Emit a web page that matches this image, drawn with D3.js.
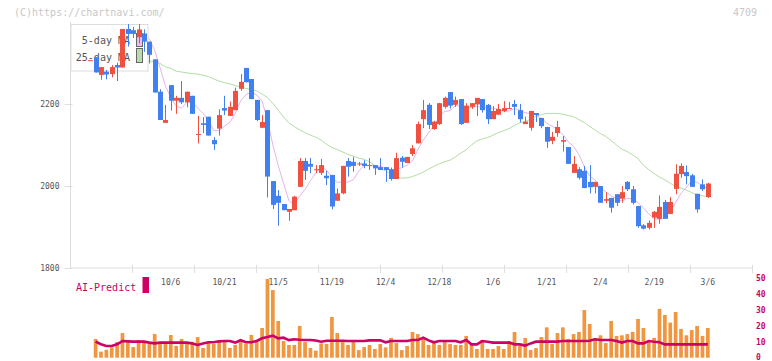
<!DOCTYPE html>
<html><head><meta charset="utf-8">
<script src="https://cdn.jsdelivr.net/npm/d3@7"></script>
<style>
body{margin:0;background:#fff}
svg{display:block}
text{font-family:"DejaVu Sans Mono",monospace}
</style>
</head><body>
<svg id="chart" width="772" height="361"></svg>
<script>
// ---- data ----
const opens  = [2307,2314,2271,2279,2273,2295,2289,2383,2380,2363,2372,2352,2309,2230,2154,2246,2208,2215,2204,2220,
                2127,2153,2169,2112,2140,2190,2171,2185,2237,2288,2261,2210,2142,2185,2012,1976,1956,1937,1941,1998,
                2061,2054,2041,2032,2025,2027,1964,1982,2061,2059,2055,2055,2051,2051,2046,2046,2041,2017,2069,2056,
                2078,2104,2163,2198,2139,2151,2193,2229,2198,2212,2154,2193,2199,2212,2198,2163,2174,2183,2188,2200,
                2185,2151,2142,2178,2166,2144,2110,2129,2108,2095,2032,2041,2037,2010,1998,2000,1964,1971,1980,1969,
                2010,1992,1951,1904,1898,1923,1920,1961,1932,1993,2029,2034,2026,1981,2004,1973];
const highs  = [2307,2314,2290,2283,2295,2301,2383,2395,2388,2395,2382,2352,2309,2236,2198,2246,2220,2256,2230,2220,
                2171,2168,2169,2119,2187,2220,2206,2240,2273,2288,2261,2210,2173,2185,2012,1990,1956,1944,1976,2068,
                2068,2068,2051,2066,2037,2027,1994,2049,2068,2071,2059,2063,2068,2051,2068,2046,2045,2081,2073,2071,
                2100,2157,2210,2202,2159,2203,2218,2229,2218,2212,2202,2202,2215,2212,2200,2195,2200,2207,2205,2210,
                2200,2169,2183,2178,2166,2144,2132,2159,2122,2095,2073,2046,2049,2051,2010,2000,1985,1971,1980,2000,
                2012,2000,1951,1907,1916,1939,1977,1966,1973,2053,2055,2050,2029,1981,2016,2008];
const lows   = [2307,2277,2259,2260,2265,2256,2289,2340,2361,2348,2327,2299,2228,2161,2154,2184,2176,2200,2192,2176,
                2104,2129,2123,2088,2123,2173,2171,2185,2232,2253,2212,2158,2142,1972,1944,1903,1941,1915,1941,1998,
                2015,2031,2031,2027,2002,1943,1964,1980,2023,2035,2049,2043,2039,2027,2039,2010,2013,2017,2045,2056,
                2073,2104,2141,2139,2137,2149,2189,2189,2193,2149,2154,2188,2171,2179,2151,2163,2173,2180,2188,2173,
                2155,2151,2135,2156,2141,2093,2102,2120,2084,2054,2032,2016,1995,1982,1982,1959,1958,1935,1951,1959,
                1988,1955,1898,1894,1894,1898,1908,1920,1932,1980,2020,2004,1998,1935,1988,1971];
const closes = [2307,2277,2290,2272,2290,2289,2383,2371,2371,2382,2352,2320,2228,2161,2161,2208,2215,2204,2230,2176,
                2127,2149,2123,2102,2173,2184,2193,2232,2254,2253,2212,2161,2156,2023,1954,1959,1941,1944,1974,2061,
                2037,2047,2041,2051,2019,1950,1982,2049,2047,2049,2055,2049,2051,2043,2039,2039,2017,2068,2059,2071,
                2092,2151,2185,2149,2157,2202,2215,2196,2210,2151,2196,2202,2215,2185,2163,2183,2188,2190,2190,2193,
                2163,2157,2183,2173,2146,2108,2120,2144,2112,2054,2054,2020,1995,1997,2010,1959,1968,1947,1959,1985,
                1992,1959,1902,1896,1910,1937,1949,1920,1961,2030,2049,2024,1998,1943,1992,2006];
const ma25   = [null,null,null,null,null,null,null,null,null,null,null,2305,2303,2299,2291,2287,2280,2278,2276,2274,
                2273,2270,2267,2261,2256,2252,2249,2245,2241,2238,2235,2232,2224,2216,2202,2185,2168,2154,2145,2137,
                2130,2124,2119,2112,2102,2094,2089,2083,2077,2073,2068,2065,2059,2050,2043,2037,2029,2023,2019,2020,
                2023,2028,2034,2041,2048,2054,2059,2063,2071,2080,2088,2100,2110,2115,2118,2124,2130,2135,2140,2148,
                2154,2157,2163,2170,2174,2177,2177,2177,2175,2172,2169,2162,2155,2145,2137,2128,2121,2111,2100,2090,
                2084,2076,2067,2051,2040,2030,2022,2015,2007,1999,1995,1990,1984,1979,1976,1974];
const volumes = [0,11.8,3.8,5.0,6.5,9.9,15.5,11.1,6.7,11.1,10.5,8.6,14.9,9.9,9.9,14.3,7.4,11.8,9.9,10.1,
                13.0,6.1,9.9,8.6,10.9,9.9,6.1,8.0,10.7,8.8,14.3,10.5,18.7,49.6,42.6,23.1,10.5,8.0,8.0,20.0,
                9.9,6.1,4.4,9.0,8.6,25.6,15.5,10.9,8.0,10.5,4.8,6.7,8.0,5.5,8.6,6.5,12.4,9.2,4.8,7.4,
                16.2,14.9,11.8,8.0,10.5,8.0,9.9,8.6,8.0,8.0,13.7,9.2,5.5,11.1,5.5,5.5,7.4,5.5,10.5,16.2,
                7.4,12.4,4.8,6.1,13.0,19.1,8.6,15.5,19.1,11.8,14.9,16.2,30.0,21.2,12.4,14.1,9.2,23.1,13.7,14.1,
                14.9,16.2,24.4,18.7,9.9,12.4,30.7,26.9,22.1,28.8,18.1,14.1,17.4,20.0,13.7,18.7];
const aiPredict = [null,10.1,8.5,7.4,7.4,8.4,10.5,10.3,10.1,10.1,10.1,9.5,9.0,9.5,9.5,9.5,9.5,9.5,9.5,9.0,
                8.0,9.0,9.7,9.7,10.3,10.5,10.5,9.5,11.0,9.7,9.7,10.5,12.2,13.0,13.9,12.2,12.6,11.1,11.6,11.3,
                11.1,11.1,10.8,10.1,10.7,10.7,10.7,10.7,10.5,10.5,10.5,10.5,10.9,10.9,10.9,9.7,10.5,10.5,10.5,10.5,
                11.1,11.1,12.6,10.9,9.7,10.5,10.5,10.5,10.5,9.7,11.1,8.4,8.4,10.5,10.0,9.5,9.5,9.5,9.5,8.4,
                8.4,7.6,9.0,10.1,10.1,10.1,10.1,10.1,10.5,10.5,10.5,10.5,10.5,10.7,11.6,11.1,11.1,11.1,10.5,9.5,
                10.5,10.5,9.0,9.0,10.5,10.0,9.7,8.4,8.4,8.4,8.4,8.4,8.4,8.4,8.4,8.4];
const dateLabels   = ["10/6","10/21","11/5","11/19","12/4","12/18","1/6","1/21","2/4","2/19","3/6"];
const dateLabelIdx = [15,25,35,45,55,65,75,85,95,105,115];
const gridTickIdx  = [7.84,19.39,30.93,42.48,54.02,65.57,77.11,88.66,100.2,111.75,123.3];
const priceTicks   = [1800,2000,2200];
const volumeTicks  = [0,10,20,30,40,50];

// ---- layout / scales ----
const N = closes.length;
const svg = d3.select("#chart");
const x  = d3.scaleLinear().domain([0, N - 1]).range([90.2, 707.8]);
const y  = d3.scaleLinear().domain([1800, 2200]).range([268, 104]);
const yv = d3.scaleLinear().domain([0, 50]).range([357.7, 278.3]);
const plotLeft = 70.5, plotRight = 752.5, plotTop = 22;

const RED = "#ef5040", BLUE = "#4080ef", ORANGE = "#f0963f", CRIMSON = "#cc0066";
const AXIS = "#dddddd", LABEL = "#555555";

// header texts
svg.append("text").attr("x", 14).attr("y", 15.5).attr("font-size", 10)
   .attr("fill", "#c8c8c8").text("(C)https://chartnavi.com/");
svg.append("text").attr("x", 757).attr("y", 16).attr("font-size", 10)
   .attr("text-anchor", "end").attr("fill", "#c8c8c8").text("4709");

// y axis (price)
const yAxis = d3.axisLeft(y).tickValues(priceTicks).tickSize(6).tickPadding(5).tickFormat(d3.format("d"));
const gy = svg.append("g").attr("transform", `translate(${plotLeft},0)`).call(yAxis);
gy.select(".domain").remove();
gy.selectAll(".tick line").attr("stroke", AXIS).attr("x1", 2).attr("x2", -6);
gy.selectAll(".tick text").attr("fill", LABEL).attr("font-size", 8)
  .attr("font-family", '"DejaVu Sans Mono",monospace').attr("dy", "0.34em");
svg.append("line").attr("x1", plotLeft).attr("x2", plotLeft).attr("y1", plotTop).attr("y2", y(1800))
   .attr("stroke", AXIS);

// x axis line + grid ticks
svg.append("line").attr("x1", plotLeft).attr("x2", plotRight).attr("y1", y(1800)).attr("y2", y(1800))
   .attr("stroke", AXIS);
svg.append("g").selectAll("line").data(gridTickIdx).join("line")
   .attr("x1", d => Math.round(x(d)) + 0.5).attr("x2", d => Math.round(x(d)) + 0.5)
   .attr("y1", y(1800) - 3).attr("y2", y(1800) + 5).attr("stroke", AXIS);

// date labels
svg.append("g").selectAll("text").data(dateLabels).join("text")
   .attr("x", (d, i) => x(dateLabelIdx[i])).attr("y", 285)
   .attr("text-anchor", "middle").attr("font-size", 8).attr("fill", LABEL).text(d => d);

// moving averages
const ma5 = closes.map((c, i) => i < 4 ? null : d3.mean(closes.slice(i - 4, i + 1)));
const lineGen = d3.line().defined(d => d[1] != null).x(d => x(d[0])).y(d => y(d[1]));
svg.append("path").datum(ma25.map((v, i) => [i, v])).attr("d", lineGen)
   .attr("fill", "none").attr("stroke", "#b4dca4").attr("stroke-width", 1);
svg.append("path").datum(ma5.map((v, i) => [i, v])).attr("d", lineGen)
   .attr("fill", "none").attr("stroke", "#e8b2ec").attr("stroke-width", 1);

// legend box
svg.append("rect").attr("x", 71).attr("y", 24.5).attr("width", 77).attr("height", 46.5)
   .attr("fill", "#fff").attr("stroke", "#dddddd");
svg.append("text").attr("x", 130).attr("y", 43.5).attr("text-anchor", "end").attr("font-size", 10)
   .attr("fill", LABEL).text("5-day MA");
svg.append("text").attr("x", 130).attr("y", 60.5).attr("text-anchor", "end").attr("font-size", 10)
   .attr("fill", LABEL).text("25-day MA");
svg.append("rect").attr("x", 136.5).attr("y", 33.5).attr("width", 6).attr("height", 13)
   .attr("fill", "#ecbcec").attr("stroke", "#666");
svg.append("rect").attr("x", 136.5).attr("y", 48.5).attr("width", 6).attr("height", 14)
   .attr("fill", "#b8dcb0").attr("stroke", "#666");

// candles
const candles = svg.append("g").selectAll("g").data(d3.range(N)).join("g");
candles.append("line")
   .attr("x1", i => Math.round(x(i)) + 0.5).attr("x2", i => Math.round(x(i)) + 0.5)
   .attr("y1", i => y(highs[i])).attr("y2", i => y(lows[i]))
   .attr("stroke", i => closes[i] >= opens[i] ? RED : BLUE).attr("stroke-width", 1);
candles.append("rect")
   .attr("x", i => Math.round(x(i)) - 2)
   .attr("width", 5)
   .attr("y", i => y(Math.max(opens[i], closes[i])))
   .attr("height", i => Math.max(1, Math.abs(y(opens[i]) - y(closes[i]))))
   .attr("fill", i => closes[i] >= opens[i] ? RED : BLUE);

// volume bars
svg.append("g").selectAll("rect").data(d3.range(N)).join("rect")
   .attr("x", i => x(i) - 1.8).attr("width", 3.7)
   .attr("y", i => yv(volumes[i])).attr("height", i => yv(0) - yv(volumes[i]))
   .attr("fill", ORANGE);

// AI-Predict line
const aiLine = d3.line().defined(d => d[1] != null).x(d => x(d[0])).y(d => yv(d[1]));
svg.append("path").datum(aiPredict.map((v, i) => [i, v])).attr("d", aiLine)
   .attr("fill", "none").attr("stroke", CRIMSON).attr("stroke-width", 2.6).attr("stroke-linejoin", "miter");

// volume axis labels (right)
svg.append("g").selectAll("text").data(volumeTicks).join("text")
   .attr("x", 756).attr("y", d => yv(d)).attr("dy", "0.34em")
   .attr("font-size", 8).attr("font-weight", "bold").attr("fill", CRIMSON).text(d => d);

// AI-Predict legend
svg.append("text").attr("x", 76).attr("y", 290.5).attr("font-size", 10).attr("fill", CRIMSON).text("AI-Predict");
svg.append("rect").attr("x", 142.5).attr("y", 277).attr("width", 6.5).attr("height", 16).attr("fill", CRIMSON);
</script>
</body></html>
